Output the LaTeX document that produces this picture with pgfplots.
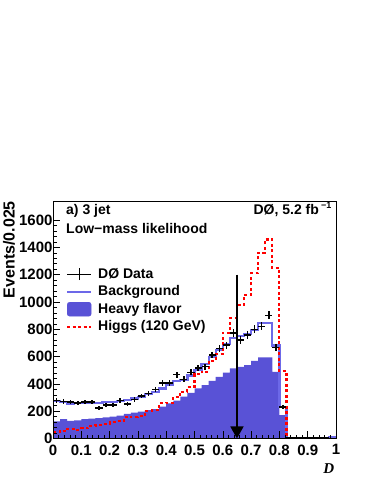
\documentclass[border=0pt]{standalone}
\usepackage{fontspec}
\setmainfont{Liberation Sans}
\newfontfamily\timesbi{Liberation Serif}
\usepackage{pgfplots}
\pgfplotsset{compat=1.18}
\usepackage{pgfplotstable}
\usetikzlibrary{arrows.meta}

\definecolor{hfblue}{RGB}{89,82,214}
\definecolor{bgblue}{RGB}{108,104,232}
\definecolor{higgsred}{RGB}{255,0,0}

% data points: bin centre, events, half bin width, sqrt(N)
\pgfplotstableread{
x       y    ex      ey
0.0125  277  0.0125  16.6
0.0375  270  0.0125  16.4
0.0625  268  0.0125  16.4
0.0875  260  0.0125  16.1
0.1125  268  0.0125  16.4
0.1375  266  0.0125  16.3
0.1625  224  0.0125  15.0
0.1875  247  0.0125  15.7
0.2125  245  0.0125  15.7
0.2375  278  0.0125  16.7
0.2625  252  0.0125  15.9
0.2875  287  0.0125  16.9
0.3125  311  0.0125  17.6
0.3375  330  0.0125  18.2
0.3625  360  0.0125  19.0
0.3875  405  0.0125  20.1
0.4125  406  0.0125  20.1
0.4375  468  0.0125  21.6
0.4625  434  0.0125  20.8
0.4875  484  0.0125  22.0
0.5125  518  0.0125  22.8
0.5375  526  0.0125  22.9
0.5625  611  0.0125  24.7
0.5875  660  0.0125  25.7
0.6125  684  0.0125  26.2
0.6375  772  0.0125  27.8
0.6625  721  0.0125  26.9
0.6875  760  0.0125  27.6
0.7125  800  0.0125  28.3
0.7375  822  0.0125  28.7
0.7625  902  0.0125  30.0
0.7875  668  0.0125  25.8
0.8125  232  0.0125  15.2
0.8375  4    0.0125  2.0
0.8625  4    0.0125  2.0
0.8875  4    0.0125  2.0
0.9125  4    0.0125  2.0
0.9375  4    0.0125  2.0
0.9625  4    0.0125  2.0
}\dzdata

\begin{document}
\begin{tikzpicture}[x=1pt,y=1pt]
\path[use as bounding box] (0,0) rectangle (374,484);
\begin{axis}[
  at={(53pt,45.5pt)}, anchor=south west,
  scale only axis, width=283pt, height=237.5pt,
  xmin=0, xmax=1, ymin=0, ymax=1740,
  xtick={0,0.1,...,1.01}, ytick={0,200,...,1600},
  minor x tick num=4, minor y tick num=4,
  tick align=inside, xtick pos=bottom, ytick pos=left,
  major tick length=7pt, minor tick length=3.5pt,
  every tick/.style={black, line width=0.6pt},
  axis line style={black, line width=0.7pt},
  axis on top,
  ticklabel style={font=\fontsize{15}{15}\selectfont\bfseries},
  xticklabel style={yshift=-2.5pt},
  yticklabel style={xshift=3pt},
  /pgf/number format/assume math mode=true,
  /pgf/number format/1000 sep={},
  legend cell align=left,
  legend style={at={(rel axis cs:0.046,0.722)}, anchor=north west,
    draw=none, fill=none, inner sep=0pt,
    font=\fontsize{14}{14}\selectfont\bfseries,
    row sep=3.4pt, column sep=6pt,
    nodes={inner sep=0pt, text height=11pt, text depth=3pt}},
]
% heavy flavor
\addplot[const plot, fill=hfblue, draw=none, forget plot] coordinates {
(0.000,125) (0.025,142) (0.050,130) (0.075,132) (0.100,142) (0.125,145)
(0.150,150) (0.175,155) (0.200,160) (0.225,168) (0.250,180) (0.275,189)
(0.300,196) (0.325,208) (0.350,216) (0.375,233) (0.400,257) (0.425,277)
(0.450,306) (0.475,335) (0.500,367) (0.525,391) (0.550,423) (0.575,452)
(0.600,482) (0.625,513) (0.650,525) (0.675,538) (0.700,569) (0.725,594)
(0.750,594) (0.775,489) (0.800,172) (0.825,0)} \closedcycle;
% total background
\addplot[const plot, bgblue, line width=2.2pt, forget plot] coordinates {
(0.000,272) (0.025,270) (0.050,252) (0.075,262) (0.100,262) (0.125,262)
(0.150,262) (0.175,266) (0.200,270) (0.225,274) (0.250,282) (0.275,293)
(0.300,306) (0.325,325) (0.350,343) (0.375,367) (0.400,391) (0.425,423)
(0.450,430) (0.475,462) (0.500,500) (0.525,545) (0.550,600) (0.575,648)
(0.600,695) (0.625,735) (0.650,750) (0.675,765) (0.700,795) (0.725,845)
(0.750,845) (0.775,682) (0.800,228) (0.825,5) (0.850,5) (0.875,5)
(0.900,5) (0.925,5) (0.950,5) (0.975,12) (1.000,12)};
% higgs signal (scaled)
\addplot[const plot, higgsred, line width=2.1pt, dash pattern=on 3pt off 2.5pt, forget plot] coordinates {
(0.000,45) (0.025,55) (0.050,70) (0.075,65) (0.100,75) (0.125,92)
(0.150,98) (0.175,108) (0.200,122) (0.225,125) (0.250,155) (0.275,160)
(0.300,165) (0.325,204) (0.350,208) (0.375,257) (0.400,262) (0.425,306)
(0.450,343) (0.475,378) (0.500,470) (0.525,490) (0.550,570) (0.575,620)
(0.600,775) (0.625,880) (0.650,978) (0.675,1050) (0.700,1210) (0.725,1362)
(0.750,1458) (0.775,1250) (0.800,496) (0.825,0)};
% data
\addplot[draw=none, mark=none, forget plot,
  error bars/.cd, x dir=both, x explicit, y dir=both, y explicit, error mark=none,
  error bar style={draw=black, solid, line width=1.5pt}]
  table[x=x, y=y, x error=ex, y error=ey] {\dzdata};
% cut arrow
\draw[line width=1.5pt, -{Triangle[width=13pt,length=12pt]}] (axis cs:0.65,1200) -- (axis cs:0.65,0);

\addlegendimage{legend image code/.code={
  \draw[black, line width=1.3pt] (0pt,0pt) -- (24pt,0pt);
  \draw[black, line width=1.3pt] (12pt,-6pt) -- (12pt,6pt);}}
\addlegendentry{DØ Data}
\addlegendimage{legend image code/.code={
  \draw[bgblue, line width=2pt] (0pt,0pt) -- (24pt,0pt);}}
\addlegendentry{Background}
\addlegendimage{legend image code/.code={
  \fill[hfblue, rounded corners=2.5pt] (0pt,-7pt) rectangle (24pt,7pt);}}
\addlegendentry{Heavy flavor}
\addlegendimage{legend image code/.code={
  \draw[higgsred, line width=2pt, dash pattern=on 3pt off 2.5pt] (0pt,0pt) -- (24pt,0pt);}}
\addlegendentry{Higgs (120 GeV)}
\end{axis}
\node[anchor=base west, font=\fontsize{14}{14}\selectfont\bfseries, inner sep=0pt] at (66,269) {a) 3 jet};
\node[anchor=base west, font=\fontsize{14}{14}\selectfont\bfseries, inner sep=0pt] at (66,250.7) {Low−mass likelihood};
\node[anchor=base east, font=\fontsize{14}{14}\selectfont\bfseries, inner sep=0pt] at (331.7,269)
  {DØ, 5.2 fb\,\raisebox{6pt}{\fontsize{9}{9}\selectfont −1}};
\node[rotate=90, anchor=base east, font=\fontsize{16}{16}\selectfont\bfseries, inner sep=0pt] at (14.5,283) {Events/0.025};
\node[anchor=base east, font=\fontsize{15}{15}\selectfont\timesbi\bfseries\itshape, inner sep=0pt] at (334.3,10) {D};
\end{tikzpicture}
\end{document}
